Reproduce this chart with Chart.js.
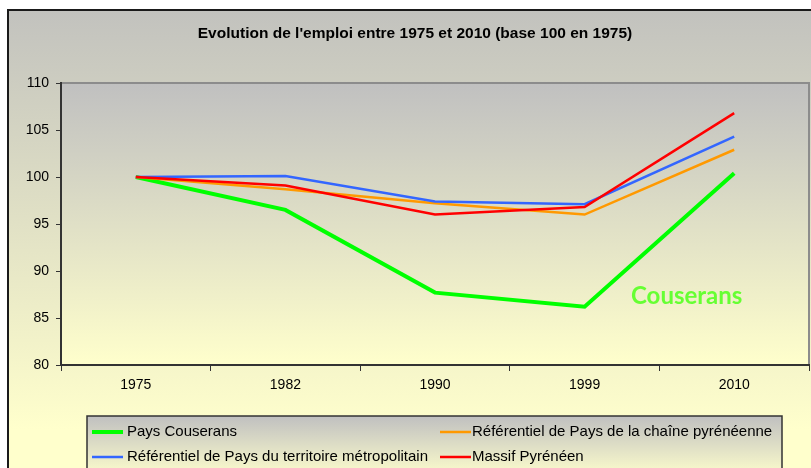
<!DOCTYPE html>
<html>
<head>
<meta charset="utf-8">
<script src="https://cdn.jsdelivr.net/npm/chart.js@4/dist/chart.umd.min.js"></script>
<style>
html,body{margin:0;padding:0;background:#fff;}
canvas{display:block;}
</style>
</head>
<body>
<canvas id="c" width="811" height="468"></canvas>
<script>
const categories = ['1975', '1982', '1990', '1999', '2010'];
const paysCouserans = [100, 96.5, 87.7, 86.2, 100.4];
const refChaine = [100, 98.7, 97.2, 96.0, 102.9];
const refMetropole = [100, 100.1, 97.4, 97.1, 104.3];
const massifPyreneen = [100, 99.1, 96.0, 96.8, 106.8];
const seriesLabels = [
  'Pays Couserans',
  'Référentiel de Pays de la chaîne pyrénéenne',
  'Référentiel de Pays du territoire métropolitain',
  'Massif Pyrénéen'
];
const titleText = "Evolution de l'emploi entre 1975 et 2010 (base 100 en 1975)";
const annotationText = 'Couserans';

const FONT = '"Liberation Sans", Arial, sans-serif';

const decor = {
  id: 'decor',
  beforeDraw(chart) {
    const ctx = chart.ctx;
    const a = chart.chartArea;
    ctx.save();
    ctx.fillStyle = '#ffffff';
    ctx.fillRect(0, 0, chart.width, chart.height);
    let g = ctx.createLinearGradient(0, 10, 0, 430);
    g.addColorStop(0, '#C2C2BE');
    g.addColorStop(1, '#FFFFCC');
    ctx.fillStyle = g;
    ctx.fillRect(8, 10, chart.width - 8, chart.height - 10);
    ctx.strokeStyle = '#1a1a1a';
    ctx.lineWidth = 2;
    ctx.beginPath();
    ctx.moveTo(8, chart.height);
    ctx.lineTo(8, 10);
    ctx.lineTo(chart.width, 10);
    ctx.stroke();
    g = ctx.createLinearGradient(0, a.top, 0, a.bottom);
    g.addColorStop(0, '#C0C0C0');
    g.addColorStop(1, '#FFFFCC');
    ctx.fillStyle = g;
    ctx.fillRect(a.left, a.top, a.right - a.left, a.bottom - a.top);
    ctx.strokeStyle = '#8c8c8c';
    ctx.lineWidth = 2;
    ctx.beginPath();
    ctx.moveTo(a.left, a.top);
    ctx.lineTo(a.right, a.top);
    ctx.lineTo(a.right, a.bottom);
    ctx.stroke();
    ctx.fillStyle = '#000';
    ctx.font = 'bold 15.5px ' + FONT;
    ctx.textAlign = 'center';
    ctx.textBaseline = 'middle';
    ctx.fillText(titleText, 415, 34);
    ctx.restore();
  },
  afterDraw(chart) {
    const ctx = chart.ctx;
    ctx.save();
    ctx.fillStyle = '#66FF33';
    ctx.font = 'bold 24px Lato, "Open Sans", sans-serif';
    ctx.textAlign = 'left';
    ctx.textBaseline = 'alphabetic';
    ctx.fillText(annotationText, 631, 304);
    const bx = 87, by = 416, bw = 695, bh = 62;
    const g = ctx.createLinearGradient(0, by, 0, by + bh);
    g.addColorStop(0, '#C0C0C0');
    g.addColorStop(1, '#FFFFCC');
    ctx.fillStyle = g;
    ctx.fillRect(bx, by, bw, bh);
    ctx.strokeStyle = '#333';
    ctx.lineWidth = 1.5;
    ctx.strokeRect(bx, by, bw, bh);
    const lineX = [92, 440];
    const textX = [127, 472];
    const rowY = [432, 457];
    ctx.font = '15px ' + FONT;
    ctx.textBaseline = 'middle';
    chart.data.datasets.forEach((ds, i) => {
      const col = i % 2, row = Math.floor(i / 2);
      ctx.strokeStyle = ds.borderColor;
      ctx.lineWidth = ds.borderWidth;
      ctx.beginPath();
      ctx.moveTo(lineX[col], rowY[row]);
      ctx.lineTo(lineX[col] + 31, rowY[row]);
      ctx.stroke();
      ctx.fillStyle = '#000';
      ctx.fillText(ds.label, textX[col], rowY[row]);
    });
    ctx.restore();
  }
};

new Chart(document.getElementById('c'), {
  type: 'line',
  data: {
    labels: categories,
    datasets: [
      { label: seriesLabels[0], data: paysCouserans, borderColor: '#00FF00', borderWidth: 4, order: 4 },
      { label: seriesLabels[1], data: refChaine, borderColor: '#FF9900', borderWidth: 2.5, order: 3 },
      { label: seriesLabels[2], data: refMetropole, borderColor: '#3366FF', borderWidth: 2.5, order: 2 },
      { label: seriesLabels[3], data: massifPyreneen, borderColor: '#FF0000', borderWidth: 2.5, order: 1 }
    ].map(d => Object.assign({ pointRadius: 0, tension: 0, fill: false, borderJoinStyle: 'miter' }, d))
  },
  options: {
    responsive: false,
    devicePixelRatio: 1,
    animation: false,
    layout: { padding: { left: 8, top: 83, right: 2, bottom: 0 } },
    plugins: { legend: { display: false }, title: { display: false }, tooltip: { enabled: false } },
    scales: {
      x: {
        offset: true,
        grid: { display: true, offset: true, drawOnChartArea: false, drawTicks: true, tickLength: 6, color: '#333', lineWidth: 1 },
        border: { display: true, color: '#333', width: 2 },
        ticks: { color: '#000', font: { family: FONT, size: 14 }, padding: 6, maxRotation: 0 },
        afterFit(s) { s.height = 103; }
      },
      y: {
        min: 80, max: 110,
        grid: { display: true, drawOnChartArea: false, drawTicks: true, tickLength: 5, color: '#333', lineWidth: 1 },
        border: { display: true, color: '#333', width: 2 },
        ticks: { stepSize: 5, color: '#000', font: { family: FONT, size: 14 }, padding: 7 },
        afterFit(s) { s.width = 53; }
      }
    }
  },
  plugins: [decor]
});
</script>
</body>
</html>
